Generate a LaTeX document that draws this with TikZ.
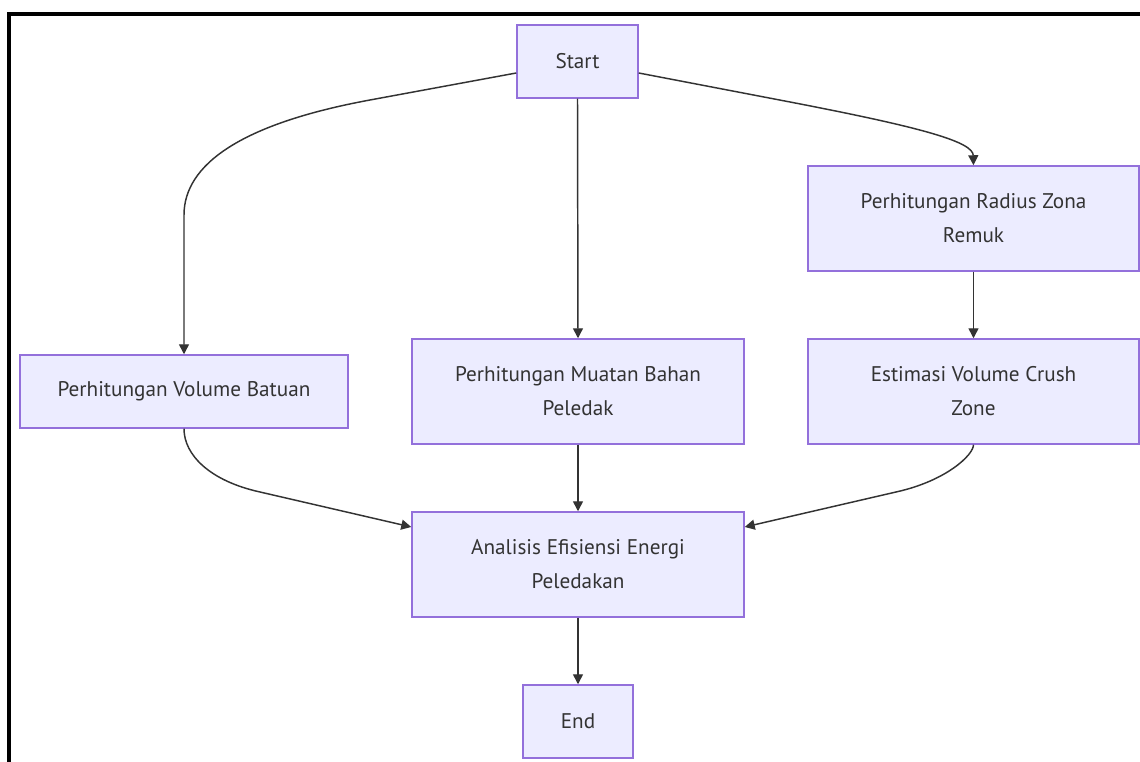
\documentclass[tikz,border=0pt]{standalone}
\usepackage{fontspec}
\setmainfont{PT Sans}
\usetikzlibrary{arrows.meta,calc}
\definecolor{boxfill}{HTML}{ECECFF}
\definecolor{boxline}{HTML}{9370DB}
\definecolor{ink}{HTML}{333333}
\tikzset{
  box/.style={draw=boxline, fill=boxfill, line width=1.1pt, text=ink, align=center,
    inner sep=0pt, font=\fontsize{15.9}{25.5}\selectfont},
  conn/.style={draw=ink, line width=1.1pt, -{Triangle[length=7.5pt,width=7.5pt]}},
}
\begin{document}
\begin{tikzpicture}[x=0.75pt,y=-0.75pt]
\useasboundingbox (0,0) rectangle (1140,762);
\fill[white] (0,0) rectangle (1140,762);
\draw[black, line width=3pt] (9,800) -- (9,14) -- (1200,14);

\node[box, minimum width=90.75pt, minimum height=54.75pt] (start) at (577.5,61.5) {Start};
\node[box, minimum width=248.25pt, minimum height=78.75pt] (radius) at (973.5,218.5) {Perhitungan Radius Zona\\Remuk};
\node[box, minimum width=246pt, minimum height=54.75pt] (batuan) at (184,391.5) {Perhitungan Volume Batuan};
\node[box, minimum width=249pt, minimum height=78.75pt] (muatan) at (578,391.5) {Perhitungan Muatan Bahan\\Peledak};
\node[box, minimum width=248.25pt, minimum height=78.75pt] (estimasi) at (973.5,391.5) {Estimasi Volume Crush\\Zone};
\node[box, minimum width=249pt, minimum height=78.75pt] (analisis) at (578,564.5) {Analisis Efisiensi Energi\\Peledakan};
\node[box, minimum width=82.5pt, minimum height=54.75pt] (end) at (578,721.5) {End};

\draw[conn] ($(start.west)+(0,11.5)$) -- (370,100) .. controls (240,124) and (184,165) .. (184,215) -- (batuan.north);
\draw[conn] (start.south) -- (muatan.north);
\draw[conn] ($(start.east)+(0,11.5)$) -- (790,102) .. controls (925,128) and (973,142) .. (radius.north);
\draw[conn] (radius.south) -- (estimasi.north);
\draw[conn] (batuan.south) .. controls (184,455) and (210,481) .. (260,492) -- ($(analisis.west)+(0,-37.5)$);
\draw[conn] (muatan.south) -- (analisis.north);
\draw[conn] (estimasi.south) .. controls (973.5,455) and (946,481) .. (896,492) -- ($(analisis.east)+(0,-37.5)$);
\draw[conn] (analisis.south) -- (end.north);
\end{tikzpicture}
\end{document}
